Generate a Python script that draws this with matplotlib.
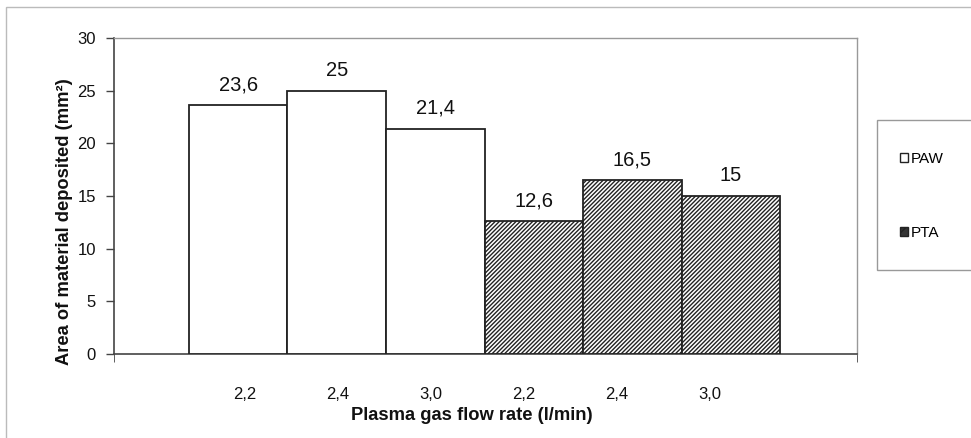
import numpy as np
import matplotlib
matplotlib.use("Agg")
import matplotlib.pyplot as plt
from matplotlib.patches import Rectangle, Patch

plt.rcParams['font.family'] = ['Liberation Sans', 'DejaVu Sans']
plt.rcParams['hatch.linewidth'] = 1.0
plt.rcParams['hatch.color'] = '#4a4a4a'

# données : surface déposée par procédé et débit de gaz plasma
flow_labels = ["2,2", "2,4", "3,0", "2,2", "2,4", "3,0"]
paw_vals = [23.6, 25.0, 21.4]
pta_vals = [12.6, 16.5, 15.0]
series = ["PAW", "PTA"]

fig = plt.figure(figsize=(9.71, 4.38), dpi=100)
ax = fig.add_axes([114/971, 1 - 354/438, (857 - 114)/971, (354 - 38)/438])

x_paw = np.arange(len(paw_vals))
x_pta = np.arange(len(pta_vals)) + len(paw_vals)

ax.bar(x_paw, paw_vals, width=1.0, color='white', edgecolor='#222222',
       linewidth=1.3, label=series[0], zorder=3)
ax.bar(x_pta, pta_vals, width=1.0, color='white', edgecolor='#222222',
       linewidth=1.3, hatch='////////', label=series[1], zorder=3)

# étiquettes de valeur au-dessus des barres
for xs, vals in ((x_paw, paw_vals), (x_pta, pta_vals)):
    for xi, v in zip(xs, vals):
        txt = f"{v:g}".replace('.', ',')
        ax.text(xi, v + 1.05, txt, ha='center', va='bottom', fontsize=14.5,
                color='#111111')

x_lo, x_hi = -0.5 - 0.76, 5.5 + 0.78
ax.set_xlim(x_lo, x_hi)
ax.set_ylim(0, 30)
ax.set_yticks(np.arange(0, 31, 5))
ax.tick_params(axis='y', length=6, width=1, color='#444444', labelsize=12,
               pad=7, labelcolor='#111111')

# libellés de débit sous l'axe (légèrement décalés comme dans Excel)
tick_pos = [0.07 + i * 0.943 for i in range(len(flow_labels))]
ax.set_xticks(tick_pos)
ax.set_xticklabels(flow_labels, fontsize=12)
ax.tick_params(axis='x', length=0, pad=24, labelcolor='#111111')
ax.set_xticks([x_lo, x_hi], minor=True)
ax.tick_params(axis='x', which='minor', length=6, color='#444444')

ax.set_ylabel("Area of material deposited (mm²)", fontsize=13.2,
              fontweight='bold', color='#111111')
ax.yaxis.set_label_coords(-0.055, 0.42)
ax.set_xlabel("Plasma gas flow rate (l/min)", fontsize=13.2,
              fontweight='bold', color='#111111')
ax.xaxis.set_label_coords(0.482, -0.168)

for side in ('top', 'right'):
    ax.spines[side].set_color('#999999')
    ax.spines[side].set_linewidth(1.0)
for side in ('left', 'bottom'):
    ax.spines[side].set_color('#444444')
    ax.spines[side].set_linewidth(1.2)

# cadre de la légende
fig.add_artist(Rectangle((877/971, 1 - 270/438), 0.2, 150/438,
                         transform=fig.transFigure, facecolor='white',
                         edgecolor='#999999', linewidth=1.0))
handles = [Patch(facecolor='white', edgecolor='#222222', label=series[0]),
           Patch(facecolor='#333333', edgecolor='#222222', hatch='//',
                 label=series[1])]
fig.legend(handles=handles, loc='center left', frameon=False,
           bbox_to_anchor=(900/971, 1 - 196/438), fontsize=11,
           handlelength=0.5, handleheight=0.5, handletextpad=0.2,
           labelspacing=3.9, borderpad=0, borderaxespad=0)

# bordure extérieure du graphique
fig.add_artist(Rectangle((6/971, -0.05), 1.0, 1 - 7/438 + 0.05,
                         transform=fig.transFigure, facecolor='none',
                         edgecolor='#bbbbbb', linewidth=1.0))

fig.savefig("out.png", dpi=100)
